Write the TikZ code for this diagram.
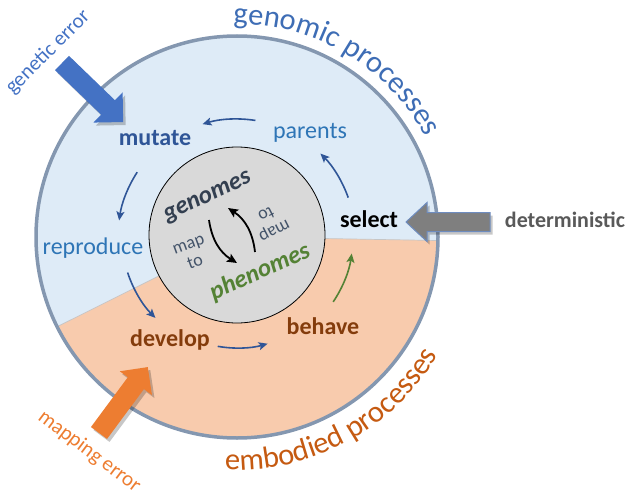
\documentclass[tikz,border=0pt]{standalone}
\usepackage{fontspec}
\setmainfont{Carlito}
\usetikzlibrary{decorations.text,arrows.meta}
\definecolor{bluefill}{HTML}{DEEBF7}
\definecolor{orangefill}{HTML}{F8CBAD}
\definecolor{rimcol}{HTML}{8497B0}
\definecolor{coregray}{HTML}{D9D9D9}
\definecolor{dkblue}{HTML}{2F5597}
\definecolor{mdblue}{HTML}{2E75B6}
\definecolor{dkbrown}{HTML}{843C0C}
\definecolor{dkgreen}{HTML}{548235}
\definecolor{slate}{HTML}{333F50}
\definecolor{slatetext}{HTML}{44546A}
\definecolor{titleblue}{HTML}{3E6DB5}
\definecolor{titlebrown}{HTML}{C55A11}
\definecolor{errblue}{HTML}{4472C4}
\definecolor{errorange}{HTML}{ED7D31}
\definecolor{detgray}{HTML}{7F7F7F}
\definecolor{detborder}{HTML}{6E8CBF}
\definecolor{dettext}{HTML}{595959}
\newcommand\titlefont{\fontsize{30.5}{36}\selectfont}
\begin{document}
\begin{tikzpicture}[x=1pt,y=1pt,
  lbl/.style={anchor=base, inner sep=0pt, font=\fontsize{24}{28}\selectfont},
  blbl/.style={lbl, font=\fontsize{24}{28}\selectfont\bfseries},
  cyc/.style={draw=dkblue, line width=1.6pt, -{Stealth[length=9pt,width=8pt,inset=2pt]}},
  maparrow/.style={draw=black, line width=1.8pt, -{Stealth[length=10pt,width=9pt,inset=2pt]}},
  errtext/.style={anchor=base, inner sep=0pt, font=\fontsize{21}{25}\selectfont},
  maptext/.style={inner sep=0pt, align=center, text=slatetext, font=\fontsize{18}{19}\selectfont},
  shadowfill/.style={fill=black, opacity=0.22}
]
\useasboundingbox (0,0) rectangle (629,-500);
\coordinate (O) at (237,-237);

% outer disc
\fill[bluefill] (O) circle[radius=201pt];
\fill[orangefill] (O) -- ++(206.5:201pt) arc[start angle=206.5, end angle=359, radius=201pt] -- cycle;
\draw[color=gray!45, line width=0.7pt] (O) -- ++(206.5:201pt);
\draw[color=gray!45, line width=0.7pt] (O) -- ++(359:201pt);
\draw[rimcol, line width=3.5pt] (O) circle[radius=201pt];

% core
\node[circle, draw=black, line width=0.8pt, fill=coregray, minimum size=176pt, inner sep=0pt] (core) at (237,-235) {};

% titles along arcs
\path[decorate, decoration={text along path, text={|\titlefont|genomic processes}, text color=titleblue}]
  (O) ++(91:213pt) arc[start angle=91, end angle=5, radius=213pt];
\path[decorate, decoration={text along path, text={|\titlefont|embodied processes}, text color=titlebrown}]
  (O) ++(267:233pt) arc[start angle=267, end angle=355, radius=233pt];

% cycle labels
\node[blbl, text=dkblue] (mutate) at (155,-146) {mutate};
\node[lbl, text=mdblue] (parents) at (310,-139) {parents};
\node[lbl, text=mdblue] (reproduce) at (93,-254) {reproduce};
\node[blbl, text=dkbrown] (develop) at (170,-346) {develop};
\node[blbl, text=dkbrown] (behave) at (323,-334) {behave};
\node[blbl, text=black] (select) at (369,-227) {select};

% cycle arrows
\draw[cyc] (O) ++(81:118pt) arc[start angle=81, end angle=107, radius=118pt];
\draw[cyc] (O) ++(147:119pt) arc[start angle=147, end angle=172, radius=119pt];
\draw[cyc] (O) ++(198:115pt) arc[start angle=198, end angle=225, radius=114pt];
\draw[cyc] (O) ++(260:111pt) arc[start angle=260, end angle=286, radius=111pt];
\draw[cyc, draw=dkgreen] (O) ++(-34:116pt) arc[start angle=-34, end angle=-8, radius=115pt];
\draw[cyc] (O) ++(19.5:118pt) arc[start angle=19.5, end angle=45, radius=118pt];

% core contents
\node[inner sep=0pt, rotate=25, text=slate, font=\fontsize{25}{28}\selectfont\bfseries\itshape] (genomes) at (208,-198) {genomes};
\node[inner sep=0pt, rotate=24, text=dkgreen, font=\fontsize{25}{28}\selectfont\bfseries\itshape] (phenomes) at (260,-272) {phenomes};
\node[maptext, rotate=20] (mapl) at (192,-254) {map\\to};
\node[maptext, rotate=207] (mapr) at (270,-222) {map\\to};
\coordinate (m1s) at (209,-220); \coordinate (m1e) at (237,-263);
\coordinate (m2s) at (255,-252); \coordinate (m2e) at (228,-208);
\draw[maparrow] (m1s) to[bend right=25] (m1e);
\draw[maparrow] (m2s) to[bend right=25] (m2e);

% genetic error arrow
\begin{scope}[shift={(64.5,-66)}, rotate=-44]
  \fill[shadowfill] (0,-10) -- (64,-10) -- (64,-21) -- (85,0) -- (64,21) -- (64,10) -- (0,10) -- cycle;
\end{scope}
\begin{scope}[shift={(62,-63)}, rotate=-44]
  \fill[errblue] (0,-10) -- (64,-10) -- (64,-21) -- (85,0) -- (64,21) -- (64,10) -- (0,10) -- cycle;
\end{scope}
\node[errtext, rotate=45, text=errblue] (generr) at (52,-56) {genetic error};

% mapping error arrow
\begin{scope}[shift={(101.5,-436)}, rotate=53.5]
  \fill[shadowfill] (0,-10) -- (62,-10) -- (62,-20) -- (82,0) -- (62,20) -- (62,10) -- (0,10) -- cycle;
\end{scope}
\begin{scope}[shift={(99,-433)}, rotate=53.5]
  \fill[errorange] (0,-10) -- (62,-10) -- (62,-20) -- (82,0) -- (62,20) -- (62,10) -- (0,10) -- cycle;
\end{scope}
\node[errtext, rotate=-37, text=errorange] (maperr) at (86,-456) {mapping error};

% deterministic arrow
\begin{scope}[shift={(492.5,-225)}, rotate=180]
  \fill[shadowfill] (0,-9.5) -- (63,-9.5) -- (63,-19.5) -- (84,0) -- (63,19.5) -- (63,9.5) -- (0,9.5) -- cycle;
\end{scope}
\begin{scope}[shift={(490,-222)}, rotate=180]
  \filldraw[fill=detgray, draw=detborder, line width=1pt] (0,-9.5) -- (63,-9.5) -- (63,-19.5) -- (84,0) -- (63,19.5) -- (63,9.5) -- (0,9.5) -- cycle;
\end{scope}
\node[anchor=base, inner sep=0pt, text=dettext, font=\fontsize{22}{26}\selectfont\bfseries] (det) at (565,-227) {deterministic};
\end{tikzpicture}
\end{document}
